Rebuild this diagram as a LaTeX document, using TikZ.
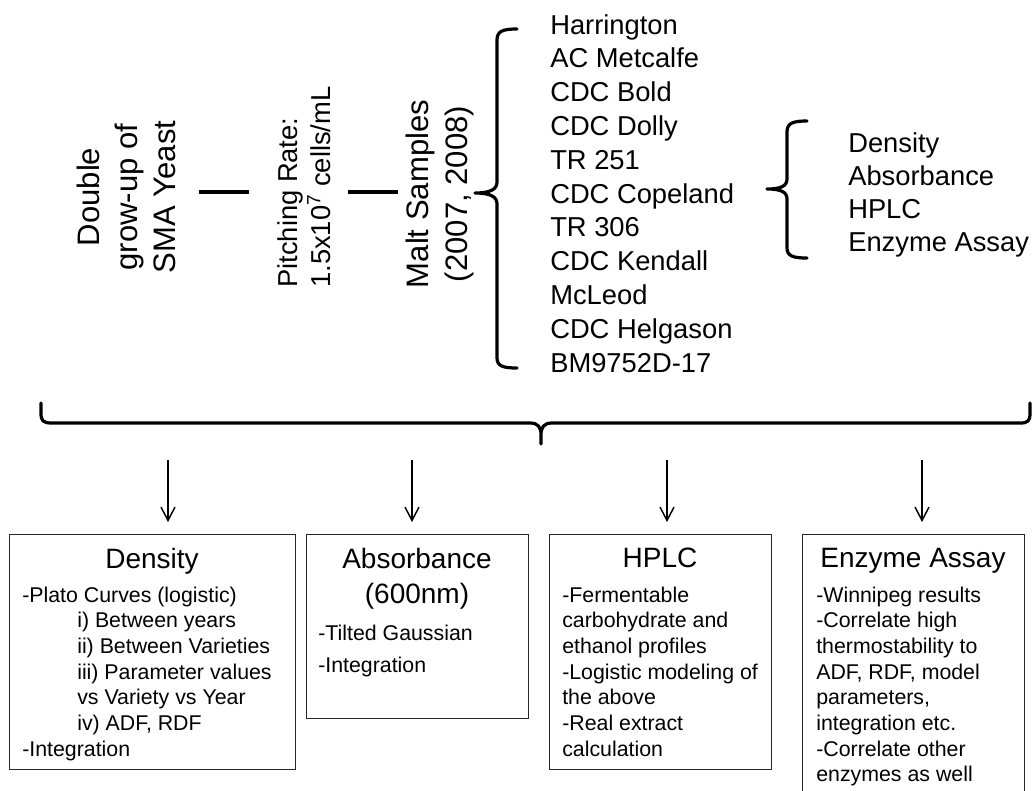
\documentclass[tikz,border=0pt]{standalone}
\usepackage{fontspec}
\setmainfont{Liberation Sans}
\usetikzlibrary{arrows.meta}

\begin{document}
\begin{tikzpicture}[x=0.75pt,y=-0.75pt,
    txt/.style={inner sep=0pt,anchor=base west,font=\fontsize{20.5}{25}\selectfont},
    side/.style={inner sep=0pt,rotate=90},
    title/.style={inner sep=0pt,anchor=base,font=\fontsize{21}{25}\selectfont},
    body/.style={inner sep=0pt,anchor=base west,font=\fontsize{16}{19}\selectfont},
    panel/.style={draw=black!85,line width=0.8pt,anchor=north west,inner sep=0pt},
    brace/.style={line width=2.4pt,line cap=round,line join=round},
    bar/.style={line width=3pt},
    arr/.style={-{Straight Barb[length=10pt,width=10.5pt]},line width=1.1pt,shorten >=9pt}]
    \useasboundingbox (0,0) rectangle (1034,790);
    \clip (0,0) rectangle (1034,790);

    % rotated headings
    \node[side,align=center,font=\fontsize{23.3}{28.5}\selectfont] (yeast) at (126,197) {Double\\grow-up of\\SMA Yeast};
    \node[side,align=left,anchor=west,font=\fontsize{20.5}{24.8}\selectfont] (pitch) at (304,288) {Pitching Rate:\\1.5x10\textsuperscript{7} cells/mL};
    \node[side,align=center,font=\fontsize{23.3}{29}\selectfont] (malt) at (440,194) {Malt Samples\\(2007, 2008)};

    \coordinate (row) at (0,192);
    \draw[bar] (yeast.south |- row) ++(23,0) -- ++(50,0);
    \draw[bar] (malt.north |- row) ++(-8,0) -- ++(-50,0);

    % varieties
    \foreach \v [count=\i from 0] in {Harrington,AC Metcalfe,CDC Bold,CDC Dolly,TR 251,CDC Copeland,TR 306,CDC Kendall,McLeod,CDC Helgason,BM9752D-17}
        \node[txt] (var\i) at (550,34+33.8*\i) {\v};

    % measurements
    \foreach \m [count=\i from 0] in {Density,Absorbance,HPLC,Enzyme Assay}
        \node[txt] (meas\i) at (848,152+33.3*\i) {\m};

    % braces
    \draw[brace] (517,29) .. controls (503,29) and (497,31) .. (497,40) -- (497,182)
        .. controls (497,189) and (491,193) .. (475,193)
        .. controls (491,193) and (497,197) .. (497,204) -- (497,358)
        .. controls (497,366) and (503,368) .. (517,368);
    \draw[brace] (807,121) .. controls (793,121) and (787,123) .. (787,132) -- (787,179)
        .. controls (787,186) and (781,189) .. (767,189)
        .. controls (781,189) and (787,192) .. (787,199) -- (787,248)
        .. controls (787,256) and (793,258) .. (807,258);
    \draw[brace] (41,403) -- (41,413) .. controls (41,421) and (43,423) .. (52,423) -- (530,423)
        .. controls (538,423) and (541,427) .. (541,435) -- (541,444) -- (541,435)
        .. controls (541,427) and (544,423) .. (552,423) -- (1020,423)
        .. controls (1028,423) and (1030,421) .. (1030,413) -- (1030,403);

    % result panels
    \node[panel,minimum width=214.5pt,minimum height=176.25pt] (dens) at (9,534) {};
    \node[panel,minimum width=166.5pt,minimum height=138pt] (abso) at (306,534) {};
    \node[panel,minimum width=166.5pt,minimum height=176.25pt] (hplc) at (549,534) {};
    \node[panel,minimum width=166.5pt,minimum height=199.5pt] (enzy) at (802,534) {};

    \foreach \x/\b in {168/dens,412/abso,667/hplc,922/enzy} {
        \coordinate (top-\b) at (\x,460);
        \draw[arr] (top-\b) -- (top-\b |- \b.north);
    }

    \node[title] (dens-t) at (152,568) {Density};
    \node[title] (abso-t) at (417,568) {Absorbance};
    \node[title] (abso-u) at (417,603) {(600nm)};
    \node[title] (hplc-t) at (660,567) {HPLC};
    \node[title] (enzy-t) at (913,567) {Enzyme Assay};

    \foreach \dx/\t [count=\i from 0] in {22/-Plato Curves (logistic),77/i) Between years,77/ii) Between Varieties,77/iii) Parameter values,77/vs Variety vs Year,77/{iv) ADF, RDF},22/-Integration}
        \node[body] (dens-l\i) at (\dx,602+25.67*\i) {\t};
    \node[body] (abso-l0) at (318,640) {-Tilted Gaussian};
    \node[body] (abso-l1) at (318,672) {-Integration};
    \foreach \t [count=\i from 0] in {-Fermentable,carbohydrate and,ethanol profiles,-Logistic modeling of,the above,-Real extract,calculation}
        \node[body] (hplc-l\i) at (562,602+25.67*\i) {\t};
    \foreach \t [count=\i from 0] in {-Winnipeg results,-Correlate high,thermostability to,{ADF, RDF, model},{parameters,},integration etc.,-Correlate other,enzymes as well}
        \node[body] (enzy-l\i) at (816,602+25.67*\i) {\t};
\end{tikzpicture}
\end{document}
